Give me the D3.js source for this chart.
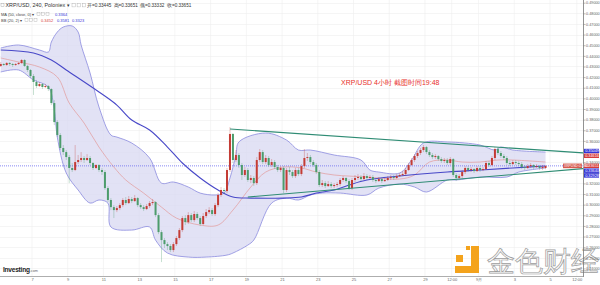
<!DOCTYPE html>
<html>
<head>
<meta charset="utf-8">
<script src="https://cdn.jsdelivr.net/npm/d3@7"></script>
<style>
body { margin: 0; background: #fff; }
svg { display: block; }
text { font-family: Arial, "Liberation Sans", sans-serif; }
</style>
</head>
<body>
<svg id="chart" width="600" height="285"></svg>
<script>
// XRP/USD 240 min candles from Poloniex, first candle opens 2018-08-05 04:00
var firstOpen = new Date(2018, 7, 5, 4)
var hoursPerCandle = 4

// [open, high, low, close]
var candles = [
[0.4305,0.4342,0.4295,0.4323],[0.4323,0.4333,0.4305,0.4314],[0.4314,0.4342,0.4305,0.4333],[0.4333,0.4342,0.4305,0.4323],
[0.4323,0.4333,0.4295,0.4314],[0.4314,0.4333,0.4305,0.4323],[0.4323,0.4342,0.4314,0.4333],[0.4333,0.4370,0.4323,0.4361],
[0.4361,0.4370,0.4295,0.4305],[0.4305,0.4314,0.4248,0.4267],[0.4267,0.4276,0.4192,0.4210],[0.4210,0.4229,0.4032,0.4154],
[0.4154,0.4173,0.4097,0.4116],[0.4116,0.4154,0.4107,0.4135],[0.4135,0.4145,0.4088,0.4107],[0.4107,0.4135,0.4097,0.4116],
[0.4116,0.4126,0.4069,0.4088],[0.4088,0.4097,0.3937,0.3956],[0.3956,0.3984,0.3749,0.3777],[0.3777,0.3796,0.3636,0.3655],
[0.3655,0.3674,0.3514,0.3533],[0.3533,0.3561,0.3467,0.3495],[0.3495,0.3514,0.3420,0.3448],[0.3448,0.3467,0.3203,0.3345],
[0.3345,0.3392,0.3307,0.3326],[0.3326,0.3561,0.3316,0.3401],[0.3401,0.3467,0.3382,0.3420],[0.3420,0.3495,0.3401,0.3439],
[0.3439,0.3458,0.3392,0.3420],[0.3420,0.3476,0.3411,0.3439],[0.3439,0.3458,0.3373,0.3392],[0.3392,0.3401,0.3326,0.3345],
[0.3345,0.3382,0.3335,0.3373],[0.3373,0.3382,0.3307,0.3326],[0.3326,0.3345,0.3279,0.3307],[0.3307,0.3326,0.3138,0.3156],
[0.3156,0.3175,0.3025,0.3044],[0.3044,0.3062,0.2949,0.2977],[0.2977,0.2996,0.2874,0.2949],[0.2949,0.2987,0.2930,0.2968],
[0.2968,0.3015,0.2949,0.2996],[0.2996,0.3062,0.2977,0.3044],[0.3044,0.3072,0.2996,0.3015],[0.3015,0.3081,0.3006,0.3053],
[0.3053,0.3072,0.3015,0.3034],[0.3034,0.3091,0.3025,0.3062],[0.3062,0.3072,0.2977,0.2996],[0.2996,0.3015,0.2959,0.2977],
[0.2977,0.2996,0.2940,0.2959],[0.2959,0.3006,0.2949,0.2987],[0.2987,0.3034,0.2968,0.3015],[0.3015,0.3053,0.2996,0.3025],
[0.3025,0.3034,0.2883,0.2902],[0.2902,0.2921,0.2723,0.2742],[0.2742,0.2761,0.2460,0.2667],[0.2667,0.2686,0.2592,0.2629],
[0.2629,0.2648,0.2573,0.2611],[0.2611,0.2629,0.2554,0.2573],[0.2573,0.2648,0.2554,0.2629],[0.2629,0.2705,0.2611,0.2686],
[0.2686,0.2780,0.2667,0.2761],[0.2761,0.2893,0.2742,0.2874],[0.2874,0.2902,0.2808,0.2836],[0.2836,0.2930,0.2818,0.2902],
[0.2902,0.2921,0.2836,0.2855],[0.2855,0.2940,0.2836,0.2912],[0.2912,0.2930,0.2855,0.2874],[0.2874,0.2893,0.2799,0.2818],
[0.2818,0.2921,0.2808,0.2893],[0.2893,0.2959,0.2874,0.2930],[0.2930,0.2977,0.2912,0.2949],[0.2949,0.2968,0.2893,0.2912],
[0.2912,0.3015,0.2893,0.2996],[0.2996,0.3109,0.2977,0.3091],[0.3091,0.3166,0.3072,0.3138],[0.3138,0.3156,0.3100,0.3128],
[0.3128,0.3345,0.3109,0.3326],[0.3326,0.3730,0.3307,0.3665],[0.3665,0.3674,0.3392,0.3420],[0.3420,0.3514,0.3401,0.3467],
[0.3467,0.3486,0.3345,0.3373],[0.3373,0.3392,0.3232,0.3279],[0.3279,0.3354,0.3260,0.3326],[0.3326,0.3345,0.3213,0.3232],
[0.3232,0.3279,0.3203,0.3251],[0.3251,0.3269,0.3175,0.3203],[0.3203,0.3448,0.3185,0.3420],[0.3420,0.3523,0.3401,0.3495],
[0.3495,0.3514,0.3382,0.3401],[0.3401,0.3467,0.3382,0.3439],[0.3439,0.3458,0.3354,0.3373],[0.3373,0.3429,0.3354,0.3401],
[0.3401,0.3420,0.3335,0.3354],[0.3354,0.3373,0.3307,0.3326],[0.3326,0.3363,0.3307,0.3345],[0.3345,0.3363,0.3109,0.3138],
[0.3138,0.3345,0.3119,0.3326],[0.3326,0.3354,0.3279,0.3307],[0.3307,0.3326,0.3251,0.3269],[0.3269,0.3345,0.3251,0.3326],
[0.3326,0.3345,0.3269,0.3288],[0.3288,0.3382,0.3269,0.3363],[0.3363,0.3523,0.3345,0.3439],[0.3439,0.3486,0.3411,0.3448],
[0.3448,0.3467,0.3382,0.3401],[0.3401,0.3420,0.3354,0.3373],[0.3373,0.3392,0.3288,0.3307],[0.3307,0.3326,0.3166,0.3185],
[0.3185,0.3232,0.3166,0.3203],[0.3203,0.3222,0.3156,0.3175],[0.3175,0.3222,0.3166,0.3194],[0.3194,0.3213,0.3156,0.3175],
[0.3175,0.3203,0.3156,0.3185],[0.3185,0.3213,0.3166,0.3194],[0.3194,0.3251,0.3175,0.3232],[0.3232,0.3269,0.3213,0.3251],
[0.3251,0.3260,0.3203,0.3222],[0.3222,0.3241,0.3138,0.3156],[0.3156,0.3251,0.3138,0.3232],[0.3232,0.3279,0.3213,0.3251],
[0.3251,0.3288,0.3232,0.3260],[0.3260,0.3279,0.3222,0.3241],[0.3241,0.3298,0.3232,0.3269],[0.3269,0.3288,0.3232,0.3251],
[0.3251,0.3279,0.3241,0.3260],[0.3260,0.3279,0.3213,0.3232],[0.3232,0.3251,0.3203,0.3222],[0.3222,0.3260,0.3213,0.3241],
[0.3241,0.3251,0.3203,0.3222],[0.3222,0.3251,0.3213,0.3232],[0.3232,0.3269,0.3222,0.3251],[0.3251,0.3279,0.3232,0.3260],
[0.3260,0.3279,0.3232,0.3251],[0.3251,0.3288,0.3241,0.3269],[0.3269,0.3298,0.3260,0.3279],[0.3279,0.3316,0.3269,0.3288],
[0.3288,0.3345,0.3269,0.3326],[0.3326,0.3392,0.3316,0.3373],[0.3373,0.3439,0.3363,0.3420],[0.3420,0.3476,0.3401,0.3458],
[0.3458,0.3505,0.3439,0.3486],[0.3486,0.3533,0.3467,0.3514],[0.3514,0.3561,0.3495,0.3542],[0.3542,0.3552,0.3476,0.3495],
[0.3495,0.3514,0.3448,0.3467],[0.3467,0.3486,0.3429,0.3448],[0.3448,0.3476,0.3429,0.3458],[0.3458,0.3467,0.3411,0.3429],
[0.3429,0.3448,0.3392,0.3411],[0.3411,0.3439,0.3392,0.3420],[0.3420,0.3439,0.3373,0.3392],[0.3392,0.3448,0.3373,0.3429],
[0.3429,0.3439,0.3260,0.3279],[0.3279,0.3298,0.3222,0.3251],[0.3251,0.3288,0.3232,0.3269],[0.3269,0.3326,0.3251,0.3307],
[0.3307,0.3363,0.3288,0.3345],[0.3345,0.3363,0.3307,0.3326],[0.3326,0.3354,0.3307,0.3335],[0.3335,0.3345,0.3298,0.3316],
[0.3316,0.3363,0.3307,0.3345],[0.3345,0.3363,0.3307,0.3326],[0.3326,0.3354,0.3316,0.3335],[0.3335,0.3411,0.3326,0.3392],
[0.3392,0.3411,0.3354,0.3373],[0.3373,0.3458,0.3363,0.3439],[0.3439,0.3542,0.3420,0.3523],[0.3523,0.3542,0.3467,0.3486],
[0.3486,0.3505,0.3439,0.3458],[0.3458,0.3476,0.3420,0.3439],[0.3439,0.3458,0.3373,0.3392],[0.3392,0.3411,0.3363,0.3382],
[0.3382,0.3420,0.3373,0.3401],[0.3401,0.3420,0.3373,0.3392],[0.3392,0.3411,0.3363,0.3382],[0.3382,0.3401,0.3335,0.3354],
[0.3354,0.3373,0.3326,0.3345],[0.3345,0.3382,0.3335,0.3363],[0.3363,0.3392,0.3345,0.3373],[0.3373,0.3382,0.3335,0.3354],
[0.3354,0.3382,0.3345,0.3363],[0.3363,0.3373,0.3326,0.3345],[0.3345,0.3373,0.3326,0.3354],[0.3345,0.3365,0.3333,0.3365]
]

// indicator lines: [candle index, price]
var bbUpper = [[0,0.4474],[6,0.4502],[13,0.4455],[16,0.4436],[17,0.4530],[19,0.4624],[21,0.4671],[24,0.4681],[26,0.4624],
  [27,0.4502],[30,0.4239],[33,0.3919],[37,0.3655],[39,0.3636],[44,0.3580],[50,0.3439],[54,0.3203],[58,0.3213],[63,0.3166],
  [67,0.3109],[72,0.3091],[75,0.3109],[77,0.3251],[79,0.3467],[80,0.3590],[89,0.3674],[96,0.3608],[100,0.3514],[104,0.3514],
  [112,0.3467],[121,0.3420],[124,0.3326],[127,0.3307],[134,0.3298],[138,0.3420],[142,0.3580],[150,0.3590],[161,0.3561],
  [166,0.3514],[168,0.3542],[172,0.3514],[183,0.3495]]
var bbLower = [[0,0.4248],[6,0.4267],[11,0.4173],[16,0.4107],[18,0.3890],[19,0.3636],[22,0.3298],[26,0.3138],[30,0.3015],
  [33,0.3044],[36,0.3015],[37,0.2790],[44,0.2761],[50,0.2790],[52,0.2667],[56,0.2545],[63,0.2507],[69,0.2507],[76,0.2526],
  [78,0.2545],[83,0.2620],[85,0.2667],[91,0.3015],[96,0.3062],[100,0.3044],[104,0.3091],[108,0.3109],[114,0.3109],
  [123,0.3091],[127,0.3156],[134,0.3194],[139,0.3166],[143,0.3119],[150,0.3232],[153,0.3232],[161,0.3260],[170,0.3260],
  [174,0.3307],[183,0.3345]]
var bbMiddle = [[0,0.4380],[6,0.4342],[13,0.4295],[19,0.4201],[23,0.3956],[28,0.3768],[33,0.3542],[38,0.3354],[42,0.3232],
  [48,0.3109],[54,0.2977],[59,0.2874],[67,0.2808],[73,0.2808],[78,0.2949],[84,0.3166],[89,0.3307],[95,0.3354],[101,0.3345],
  [106,0.3307],[112,0.3279],[117,0.3269],[123,0.3260],[134,0.3241],[139,0.3279],[144,0.3401],[150,0.3420],[155,0.3401],
  [161,0.3401],[167,0.3420],[172,0.3420],[183,0.3401]]
var ma50 = [[0,0.4455],[11,0.4427],[17,0.4361],[22,0.4267],[33,0.4060],[39,0.3937],[44,0.3796],[50,0.3702],[56,0.3542],
  [61,0.3392],[67,0.3251],[73,0.3138],[78,0.3072],[84,0.3062],[95,0.3062],[101,0.3072],[106,0.3109],[112,0.3138],
  [117,0.3185],[123,0.3232],[134,0.3269],[150,0.3307],[161,0.3326],[172,0.3345],[183,0.3364]]

// hand drawn triangle: [candle index, price]
var trendUpper = [[77,0.3712],[196,0.3486]]
var trendLower = [[83,0.3072],[196,0.3340]]

var lastPrice = 0.33651
var priceTicks = [0.24,0.25,0.26,0.27,0.28,0.29,0.30,0.31,0.32,0.33,0.34,0.35,0.36,0.37,0.38,0.39,0.40,0.41,0.42,0.43,0.44,0.45,0.46,0.47,0.48,0.49]
var timeTicks = [new Date(2018,7,7),new Date(2018,7,9),new Date(2018,7,11),new Date(2018,7,13),new Date(2018,7,15),
  new Date(2018,7,17),new Date(2018,7,19),new Date(2018,7,21),new Date(2018,7,23),new Date(2018,7,25),new Date(2018,7,27),
  new Date(2018,7,29),new Date(2018,7,30,12),new Date(2018,8,1),new Date(2018,8,3),new Date(2018,8,5),new Date(2018,8,6,12)]
var timeLabels = ["7","9","11","13","15","17","19","21","23","25","27","29","12:00","9月","3","5","12:00"]

// value tags on the price axis
var tagValues = [0.35049, 0.34616, 0.33651, 0.33640, 0.32928]
var tagKinds = ["band", "mid", "price", "ma", "band"]

var svg = d3.select("#chart")
var plotRight = 583, plotBottom = 276

var x = d3.scaleTime()
    .domain([new Date(2018,7,7), new Date(2018,8,5)])
    .range([32, 550])
var y = d3.scaleLinear()
    .domain([0.24, 0.49])
    .range([268.45, 2.7])

var candleTime = function(i){
  return new Date(firstOpen.getTime() + (i*hoursPerCandle + hoursPerCandle/2)*3600000)
}
var cx = function(i){ return x(candleTime(i)) }

svg.append("defs").append("clipPath").attr("id", "plot")
  .append("rect").attr("x", 0).attr("y", 0).attr("width", plotRight).attr("height", plotBottom)

// grid
var grid = svg.append("g")
grid.selectAll(".hg").data(priceTicks).enter().append("line")
  .attr("x1", 0).attr("x2", plotRight)
  .attr("y1", function(d){ return Math.round(y(d)) + 0.5 })
  .attr("y2", function(d){ return Math.round(y(d)) + 0.5 })
  .attr("stroke", "#eeeeee").attr("stroke-width", 0.6)
grid.selectAll(".vg").data(timeTicks).enter().append("line")
  .attr("y1", 0).attr("y2", plotBottom)
  .attr("x1", function(d){ return x(d) }).attr("x2", function(d){ return x(d) })
  .attr("stroke", "#eeeeee").attr("stroke-width", 0.6)

var plot = svg.append("g").attr("clip-path", "url(#plot)")

var line = d3.line()
  .x(function(d){ return cx(d[0]) })
  .y(function(d){ return y(d[1]) })
  .curve(d3.curveCatmullRom.alpha(0.5))

// bollinger fill
var upperPath = line(bbUpper)
var lowerPath = line(bbLower.slice().reverse())
plot.append("path")
  .attr("d", upperPath + "L" + lowerPath.slice(1) + "Z")
  .attr("fill", "#d8d8f2").attr("fill-opacity", 0.75)

plot.append("path").attr("d", upperPath).attr("fill", "none").attr("stroke", "#8a8ade").attr("stroke-width", 0.8)
plot.append("path").attr("d", line(bbLower)).attr("fill", "none").attr("stroke", "#8a8ade").attr("stroke-width", 0.8)
plot.append("path").attr("d", line(bbMiddle)).attr("fill", "none").attr("stroke", "#e39a9a").attr("stroke-width", 0.7)
plot.append("path").attr("d", line(ma50)).attr("fill", "none").attr("stroke", "#4848c8").attr("stroke-width", 1.1)

// last price dotted line
plot.append("line")
  .attr("x1", 0).attr("x2", plotRight)
  .attr("y1", y(lastPrice)).attr("y2", y(lastPrice))
  .attr("stroke", "#6b6bf0").attr("stroke-width", 0.8).attr("stroke-dasharray", "1,1")

// candles
var upCol = "#c43c35", downCol = "#4d9c6c"
var cg = plot.append("g")
cg.selectAll("line").data(candles).enter().append("line")
  .attr("x1", function(d, i){ return cx(i) }).attr("x2", function(d, i){ return cx(i) })
  .attr("y1", function(d){ return y(d[1]) }).attr("y2", function(d){ return y(d[2]) })
  .attr("stroke", function(d){ return d[3] >= d[0] ? upCol : downCol })
  .attr("stroke-opacity", 0.45).attr("stroke-width", 0.7)
cg.selectAll("rect").data(candles).enter().append("rect")
  .attr("x", function(d, i){ return cx(i) - 1 })
  .attr("width", 2)
  .attr("y", function(d){ return y(Math.max(d[0], d[3])) })
  .attr("height", function(d){ return Math.max(0.7, Math.abs(y(d[0]) - y(d[3]))) })
  .attr("fill", function(d){ return d[3] >= d[0] ? upCol : downCol })

// trend lines
;[trendUpper, trendLower].forEach(function(t){
  plot.append("line")
    .attr("x1", cx(t[0][0])).attr("y1", y(t[0][1]))
    .attr("x2", cx(t[1][0])).attr("y2", y(t[1][1]))
    .attr("stroke", "#2f8c74").attr("stroke-width", 1.1)
})

// watermark sits under the axis labels
var wm = svg.append("g")
var orange = "#f4a31c"
wm.append("rect").attr("x", 471).attr("y", 246).attr("width", 8).attr("height", 27).attr("fill", orange)
wm.append("rect").attr("x", 455).attr("y", 266).attr("width", 24).attr("height", 7).attr("fill", orange)
wm.append("rect").attr("x", 456).attr("y", 255).attr("width", 7).attr("height", 7).attr("fill", orange)
wm.append("rect").attr("x", 466).attr("y", 246).attr("width", 4).attr("height", 4).attr("fill", orange)
wm.append("text").attr("x", 487).attr("y", 271).attr("font-size", 27.5)
  .attr("font-family", "'Noto Sans CJK SC', sans-serif").attr("font-weight", 300)
  .attr("fill", "#fbfbfb").attr("stroke", "#9c9c9c").attr("stroke-width", 0.7)
  .text("金色财经")

// axes
svg.append("line").attr("x1", plotRight + 0.5).attr("x2", plotRight + 0.5).attr("y1", 0).attr("y2", plotBottom + 1)
  .attr("stroke", "#777").attr("stroke-width", 0.8)
svg.append("line").attr("x1", 0).attr("x2", plotRight).attr("y1", plotBottom + 0.5).attr("y2", plotBottom + 0.5)
  .attr("stroke", "#999").attr("stroke-width", 0.8)

var yAxis = d3.axisRight(y).tickValues(priceTicks).tickSize(2).tickFormat(d3.format(".5f"))
var ya = svg.append("g").attr("transform", "translate(" + (plotRight + 0.5) + ",0)").call(yAxis)
ya.select(".domain").remove()
ya.selectAll("line").attr("stroke", "#777").attr("stroke-width", 0.5)
ya.selectAll("text").attr("font-size", 3.8).attr("fill", "#666").attr("x", 2.5).attr("font-family", "Arial")

var xAxis = d3.axisBottom(x).tickValues(timeTicks).tickSize(0).tickFormat(function(d, i){ return timeLabels[i] })
var xa = svg.append("g").attr("transform", "translate(0," + (plotBottom + 1) + ")").call(xAxis)
xa.select(".domain").remove()
xa.selectAll("text").attr("font-size", 4).attr("fill", "#666").attr("dy", "0.71em").attr("y", 1.5)
  .attr("font-family", "Arial, 'Noto Sans CJK SC'")

// price axis tags
var tagColor = { band: "#3434d8", mid: "#d63a3a", price: "#d63a3a", ma: "#3434d8" }
var tagY = tagValues.map(function(v){ return y(v) })
for (var k = 1; k < tagY.length; k++) {
  if (tagY[k] - tagY[k-1] < 4.8) tagY[k] = tagY[k-1] + 4.8
}
tagValues.forEach(function(v, k){
  svg.append("rect").attr("x", plotRight + 1).attr("y", tagY[k] - 2.2).attr("width", 15).attr("height", 4.4)
    .attr("fill", tagColor[tagKinds[k]])
  svg.append("text").attr("x", plotRight + 2.2).attr("y", tagY[k] + 1.4).text(d3.format(".5f")(v))
    .attr("font-size", 3.8).attr("fill", "#fff")
})
// symbol tag left of the axis
svg.append("rect").attr("x", 563).attr("y", y(lastPrice) - 2.3).attr("width", 19).attr("height", 4.6).attr("fill", "#d65a4e")
svg.append("text").attr("x", 564).attr("y", y(lastPrice) + 1.4).text("XRPUSD:0.3365").attr("font-size", 3.3).attr("fill", "#fff")

// header legend
var hdr = svg.append("g")
hdr.append("rect").attr("x", 1).attr("y", 3.5).attr("width", 3).attr("height", 3).attr("fill", "none").attr("stroke", "#999").attr("stroke-width", 0.4)
hdr.append("text").attr("x", 5.5).attr("y", 7).attr("font-size", 5.4).attr("fill", "#333").text("XRP/USD, 240, Poloniex ▾")
var boxes = function(x0, yy, s){
  for (var b = 0; b < 3; b++) {
    hdr.append("rect").attr("x", x0 + b*(s+1.5)).attr("y", yy).attr("width", s).attr("height", s)
      .attr("fill", "none").attr("stroke", "#aaa").attr("stroke-width", 0.4)
  }
}
boxes(72, 3.3, 3.6)
var ohlcLabels = ["开=0.33445", "高=0.33651", "低=0.33332", "收=0.33651"]
var ohlcX = [87, 113.5, 140, 167]
ohlcLabels.forEach(function(t, k){
  hdr.append("text").attr("x", ohlcX[k]).attr("y", 7).attr("font-size", 4.6).attr("fill", "#333")
    .attr("font-family", "'Liberation Sans', 'Noto Sans CJK SC', sans-serif").text(t)
})

hdr.append("text").attr("x", 1).attr("y", 15.5).attr("font-size", 4).attr("fill", "#444").text("MA (50, close, 0) ▾")
boxes(37, 12.6, 3)
hdr.append("text").attr("x", 55).attr("y", 15.5).attr("font-size", 4).attr("fill", "#3434d8").text("0.3364")
hdr.append("text").attr("x", 1).attr("y", 21.5).attr("font-size", 4).attr("fill", "#444").text("BB (20, 2) ▾")
boxes(25, 18.6, 3)
hdr.append("text").attr("x", 41).attr("y", 21.5).attr("font-size", 4).attr("fill", "#d63a3a").text("0.3452")
hdr.append("text").attr("x", 57).attr("y", 21.5).attr("font-size", 4).attr("fill", "#3434d8").text("0.3581")
hdr.append("text").attr("x", 72).attr("y", 21.5).attr("font-size", 4).attr("fill", "#3434d8").text("0.3323")

// note written on the chart
svg.append("text").attr("x", 341).attr("y", 85).attr("font-size", 7).attr("fill", "#e8302a")
  .attr("font-family", "'Noto Sans CJK SC', sans-serif").text("XRP/USD 4小时 截图时间19:48")

// investing.com logo
var logo = svg.append("text").attr("x", 3).attr("y", 272).attr("fill", "#1d1d1d")
logo.append("tspan").attr("font-size", 6.6).attr("font-weight", "bold").attr("letter-spacing", -0.25).text("Investing")
logo.append("tspan").attr("font-size", 3.8).attr("fill", "#666").text(".com")
</script>
</body>
</html>
